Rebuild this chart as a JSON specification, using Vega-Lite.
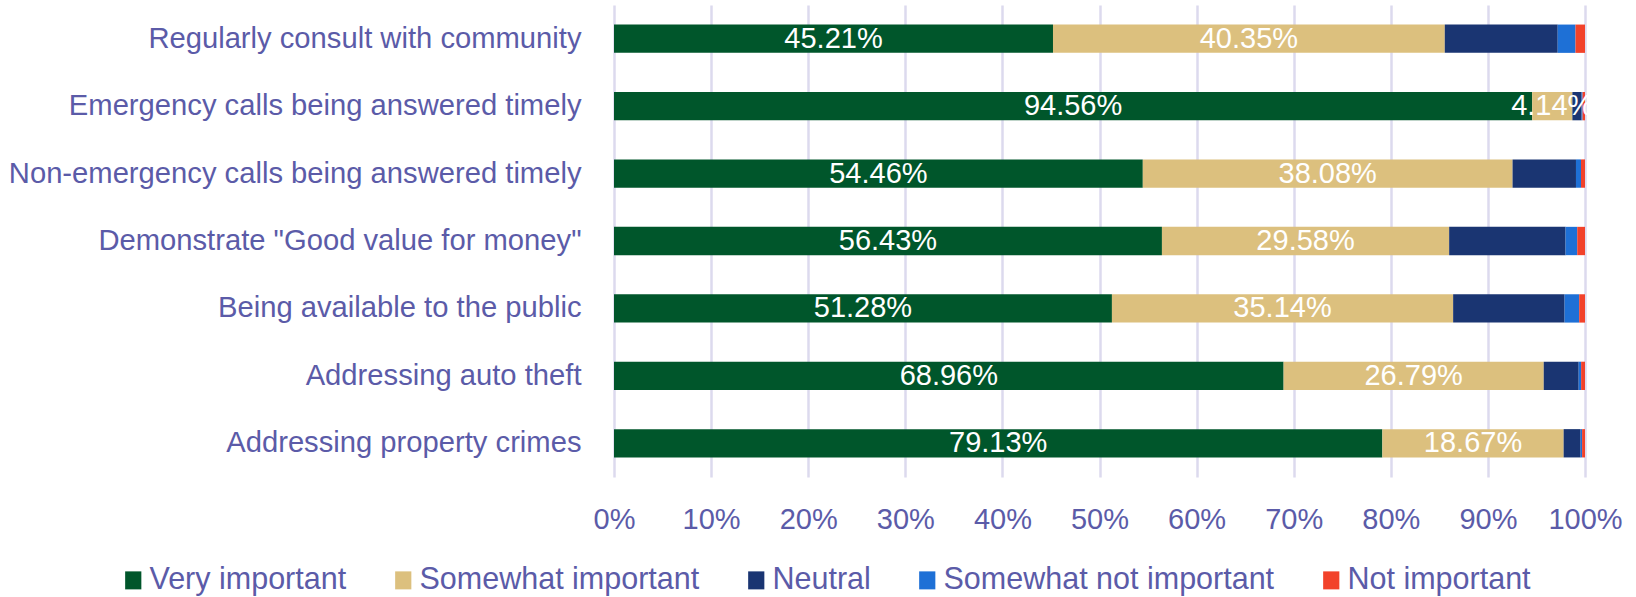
{
  "$schema": "https://vega.github.io/schema/vega-lite/v6.json",
  "width": 971,
  "height": 472,
  "autosize": "none",
  "padding": {"left": 614, "top": 5, "right": 51, "bottom": 120},
  "background": "white",
  "config": {"view": {"stroke": null}, "font": "Liberation Sans"},
  "data": {"values": [
    {"item": "Regularly consult with community", "cat": "Very important", "ord": 1, "value": 0.4521},
    {"item": "Regularly consult with community", "cat": "Somewhat important", "ord": 2, "value": 0.4035},
    {"item": "Regularly consult with community", "cat": "Neutral", "ord": 3, "value": 0.1163},
    {"item": "Regularly consult with community", "cat": "Somewhat not important", "ord": 4, "value": 0.0183},
    {"item": "Regularly consult with community", "cat": "Not important", "ord": 5, "value": 0.0098},
    {"item": "Emergency calls being answered timely", "cat": "Very important", "ord": 1, "value": 0.9456},
    {"item": "Emergency calls being answered timely", "cat": "Somewhat important", "ord": 2, "value": 0.0414},
    {"item": "Emergency calls being answered timely", "cat": "Neutral", "ord": 3, "value": 0.0095},
    {"item": "Emergency calls being answered timely", "cat": "Somewhat not important", "ord": 4, "value": 0.001},
    {"item": "Emergency calls being answered timely", "cat": "Not important", "ord": 5, "value": 0.0025},
    {"item": "Non-emergency calls being answered timely", "cat": "Very important", "ord": 1, "value": 0.5446},
    {"item": "Non-emergency calls being answered timely", "cat": "Somewhat important", "ord": 2, "value": 0.3808},
    {"item": "Non-emergency calls being answered timely", "cat": "Neutral", "ord": 3, "value": 0.0653},
    {"item": "Non-emergency calls being answered timely", "cat": "Somewhat not important", "ord": 4, "value": 0.0052},
    {"item": "Non-emergency calls being answered timely", "cat": "Not important", "ord": 5, "value": 0.0041},
    {"item": "Demonstrate \"Good value for money\"", "cat": "Very important", "ord": 1, "value": 0.5643},
    {"item": "Demonstrate \"Good value for money\"", "cat": "Somewhat important", "ord": 2, "value": 0.2958},
    {"item": "Demonstrate \"Good value for money\"", "cat": "Neutral", "ord": 3, "value": 0.1199},
    {"item": "Demonstrate \"Good value for money\"", "cat": "Somewhat not important", "ord": 4, "value": 0.012},
    {"item": "Demonstrate \"Good value for money\"", "cat": "Not important", "ord": 5, "value": 0.008},
    {"item": "Being available to the public", "cat": "Very important", "ord": 1, "value": 0.5128},
    {"item": "Being available to the public", "cat": "Somewhat important", "ord": 2, "value": 0.3514},
    {"item": "Being available to the public", "cat": "Neutral", "ord": 3, "value": 0.1148},
    {"item": "Being available to the public", "cat": "Somewhat not important", "ord": 4, "value": 0.015},
    {"item": "Being available to the public", "cat": "Not important", "ord": 5, "value": 0.006},
    {"item": "Addressing auto theft", "cat": "Very important", "ord": 1, "value": 0.6896},
    {"item": "Addressing auto theft", "cat": "Somewhat important", "ord": 2, "value": 0.2679},
    {"item": "Addressing auto theft", "cat": "Neutral", "ord": 3, "value": 0.036},
    {"item": "Addressing auto theft", "cat": "Somewhat not important", "ord": 4, "value": 0.0025},
    {"item": "Addressing auto theft", "cat": "Not important", "ord": 5, "value": 0.004},
    {"item": "Addressing property crimes", "cat": "Very important", "ord": 1, "value": 0.7913},
    {"item": "Addressing property crimes", "cat": "Somewhat important", "ord": 2, "value": 0.1867},
    {"item": "Addressing property crimes", "cat": "Neutral", "ord": 3, "value": 0.0175},
    {"item": "Addressing property crimes", "cat": "Somewhat not important", "ord": 4, "value": 0.0015},
    {"item": "Addressing property crimes", "cat": "Not important", "ord": 5, "value": 0.003}
  ]},
  "transform": [
    {"stack": "value", "groupby": ["item"], "sort": [{"field": "ord", "order": "ascending"}], "as": ["v0", "v1"]}
  ],
  "encoding": {
    "y": {
      "field": "item", "type": "nominal",
      "sort": ["Regularly consult with community", "Emergency calls being answered timely", "Non-emergency calls being answered timely", "Demonstrate \"Good value for money\"", "Being available to the public", "Addressing auto theft", "Addressing property crimes"],
      "scale": {"paddingInner": 0.58, "paddingOuter": 0.29},
      "axis": {"title": null, "ticks": false, "domain": false, "grid": false, "labelFontSize": 29.2, "labelColor": "#5B5BA8", "labelPadding": 33, "labelLimit": 0}
    }
  },
  "layer": [
    {
      "mark": {"type": "bar"},
      "encoding": {
        "x": {"field": "v0", "type": "quantitative", "scale": {"domain": [0, 1], "nice": false},
          "axis": {"title": null, "values": [0, 0.1, 0.2, 0.3, 0.4, 0.5, 0.6, 0.7, 0.8, 0.9, 1], "format": ".0%", "grid": true, "gridColor": "#DCDAEE", "gridWidth": 2.5, "ticks": false, "domain": false, "labelFontSize": 29, "labelColor": "#5B5BA8", "labelPadding": 28, "labelFlush": false}},
        "x2": {"field": "v1"},
        "color": {
          "field": "cat", "type": "nominal",
          "scale": {"domain": ["Very important", "Somewhat important", "Neutral", "Somewhat not important", "Not important"],
                    "range": ["#00562B", "#DCC07E", "#1A3572", "#1E70D6", "#F2422A"]},
          "legend": {"title": null, "orient": "none", "legendX": -496, "legendY": 560, "direction": "horizontal", "columns": 5, "padding": 0,
                     "symbolType": "M-0.9,-1H0.9V1H-0.9Z", "symbolSize": 324, "symbolStrokeWidth": 0, "symbolOpacity": 1,
                     "labelFontSize": 30.5, "labelColor": "#5B5BA8", "labelOffset": 1, "columnPadding": 41, "labelLimit": 0}
        }
      }
    },
    {
      "transform": [
        {"filter": {"field": "cat", "oneOf": ["Very important", "Somewhat important"]}},
        {"fold": ["v0", "v1"], "as": ["k", "pos"]}
      ],
      "mark": {"type": "text", "color": "white", "fontSize": 29, "align": "center", "baseline": "middle"},
      "encoding": {
        "x": {"aggregate": "mean", "field": "pos", "type": "quantitative"},
        "text": {"aggregate": "max", "field": "value", "type": "quantitative", "format": ".2%"},
        "detail": {"field": "cat"}
      }
    }
  ]
}
